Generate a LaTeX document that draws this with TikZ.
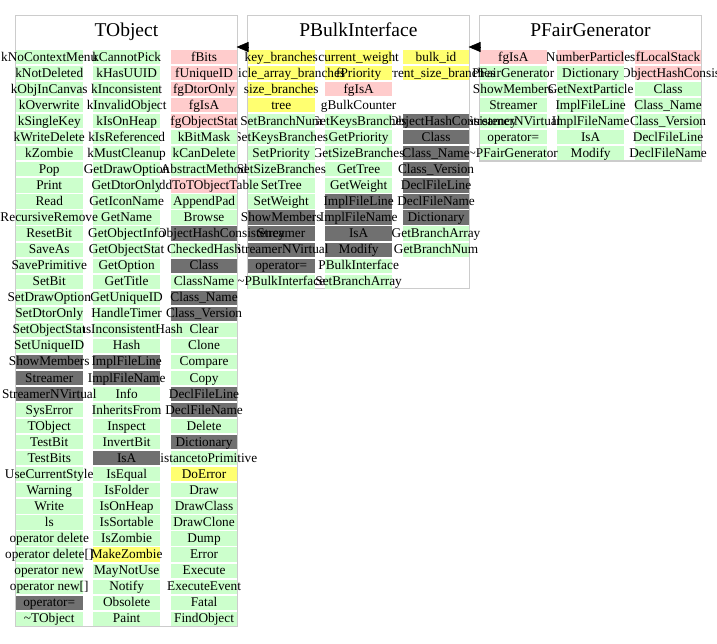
\documentclass[tikz,border=0pt]{standalone}
\usepackage{fontspec}
\setmainfont{Liberation Serif}
\usetikzlibrary{arrows.meta}

\definecolor{cellG}{HTML}{CCFFCC}
\definecolor{cellR}{HTML}{FFCCCC}
\definecolor{cellY}{HTML}{FFFF70}
\definecolor{cellK}{HTML}{707070}
\definecolor{cellW}{HTML}{FFFFFF}
\definecolor{framegray}{HTML}{CCCCCC}

\newcommand\cellfont{\fontsize{13.3}{15}\selectfont}
\newcommand\titlefont{\fontsize{19.5}{23}\selectfont}

% one column of member cells: #1 node prefix, #2 left edge, #3 list of colour/text
\newcommand\membercolumn[3]{%
  \foreach \clr/\txt [count=\i from 0] in {#3} {%
    \node[cellbox, fill=cell\clr] (#1-\i) at ({#2+33.25},{57+16.05*\i}) {};
    \node[celltext] (#1-\i-t) at (#1-\i) {\txt};
  }%
}

\begin{document}
\begin{tikzpicture}[x=1pt,y=-1pt,
  cellbox/.style={minimum width=66.5pt, minimum height=14.2pt, inner sep=0pt, outer sep=0pt, draw=none},
  celltext/.style={font=\cellfont, inner sep=0pt, outer sep=0pt, text height=8pt, text depth=0pt},
  frame/.style={draw=framegray, line width=1.5pt, fill=white, anchor=north west, inner sep=0pt, outer sep=0pt, minimum width=222.2pt},
  title/.style={font=\titlefont, inner sep=0pt, anchor=base},
  inherit/.style={-{Triangle[length=12pt,width=10pt]}, line width=0.6pt}
]
\useasboundingbox (0,0) rectangle (717,643);

% ---------- PFairGenerator ----------
\node[frame, minimum height=145.5pt] (pfair) at (479.3,15.5) {};
\node[title] (pfair-title) at (590.4,36) {PFairGenerator};
\membercolumn{pf3}{634.8}{R/fLocalStack, R/CheckObjectHashConsistency, G/Class, G/Class\_Name, G/Class\_Version, G/DeclFileLine, G/DeclFileName}
\membercolumn{pf2}{557.4}{R/NumberParticles, G/Dictionary, G/GetNextParticle, G/ImplFileLine, G/ImplFileName, G/IsA, G/Modify}
\membercolumn{pf1}{480}{R/fgIsA, G/PFairGenerator, G/ShowMembers, G/Streamer, G/StreamerNVirtual, G/operator=, G/\textasciitilde PFairGenerator}

% ---------- PBulkInterface ----------
\node[frame, minimum height=273pt] (pbulk) at (247.3,15.5) {};
\node[title] (pbulk-title) at (358.4,36) {PBulkInterface};
\membercolumn{pb3}{402.8}{Y/bulk\_id, Y/current\_size\_branches, W/{}, W/{}, K/CheckObjectHashConsistency, K/Class, K/Class\_Name, K/Class\_Version, K/DeclFileLine, K/DeclFileName, K/Dictionary, G/GetBranchArray, G/GetBranchNum}
\membercolumn{pb2}{325.4}{Y/current\_weight, Y/fPriority, R/fgIsA, W/gBulkCounter, G/GetKeysBranches, G/GetPriority, G/GetSizeBranches, G/GetTree, G/GetWeight, K/ImplFileLine, K/ImplFileName, K/IsA, K/Modify, G/PBulkInterface, G/SetBranchArray}
\membercolumn{pb1}{248}{Y/key\_branches, Y/particle\_array\_branches, Y/size\_branches, Y/tree, G/SetBranchNum, G/SetKeysBranches, G/SetPriority, G/SetSizeBranches, G/SetTree, G/SetWeight, K/ShowMembers, K/Streamer, K/StreamerNVirtual, K/operator=, G/\textasciitilde PBulkInterface}

% ---------- TObject ----------
\node[frame, minimum height=611pt] (tobject) at (15.3,15.5) {};
\node[title] (tobject-title) at (126.4,36) {TObject};
\membercolumn{to3}{170.8}{R/fBits, R/fUniqueID, R/fgDtorOnly, R/fgIsA, R/fgObjectStat, G/kBitMask, G/kCanDelete, G/AbstractMethod, R/AddToTObjectTable, G/AppendPad, G/Browse, K/CheckObjectHashConsistency, G/CheckedHash, K/Class, G/ClassName, K/Class\_Name, K/Class\_Version, G/Clear, G/Clone, G/Compare, G/Copy, K/DeclFileLine, K/DeclFileName, G/Delete, K/Dictionary, G/DistancetoPrimitive, Y/DoError, G/Draw, G/DrawClass, G/DrawClone, G/Dump, G/Error, G/Execute, G/ExecuteEvent, G/Fatal, G/FindObject}
\membercolumn{to2}{93.4}{G/kCannotPick, G/kHasUUID, G/kInconsistent, G/kInvalidObject, G/kIsOnHeap, G/kIsReferenced, G/kMustCleanup, G/GetDrawOption, G/GetDtorOnly, G/GetIconName, G/GetName, G/GetObjectInfo, G/GetObjectStat, G/GetOption, G/GetTitle, G/GetUniqueID, G/HandleTimer, G/HasInconsistentHash, G/Hash, K/ImplFileLine, K/ImplFileName, G/Info, G/InheritsFrom, G/Inspect, G/InvertBit, K/IsA, G/IsEqual, G/IsFolder, G/IsOnHeap, G/IsSortable, G/IsZombie, Y/MakeZombie, G/MayNotUse, G/Notify, G/Obsolete, G/Paint}
\membercolumn{to1}{16}{G/kNoContextMenu, G/kNotDeleted, G/kObjInCanvas, G/kOverwrite, G/kSingleKey, G/kWriteDelete, G/kZombie, G/Pop, G/Print, G/Read, G/RecursiveRemove, G/ResetBit, G/SaveAs, G/SavePrimitive, G/SetBit, G/SetDrawOption, G/SetDtorOnly, G/SetObjectStat, G/SetUniqueID, K/ShowMembers, K/Streamer, K/StreamerNVirtual, G/SysError, G/TObject, G/TestBit, G/TestBits, G/UseCurrentStyle, G/Warning, G/Write, G/ls, G/operator delete, G/operator delete[], G/operator new, G/operator new[], K/operator=, G/\textasciitilde TObject}

% ---------- inheritance arrows ----------
\coordinate (arrowrow) at (0,47);
\draw[inherit] ([xshift=1.5pt]pbulk.west |- arrowrow) -- ([xshift=-1pt]tobject.east |- arrowrow);
\draw[inherit] ([xshift=1.5pt]pfair.west |- arrowrow) -- ([xshift=-1pt]pbulk.east |- arrowrow);
\end{tikzpicture}
\end{document}
